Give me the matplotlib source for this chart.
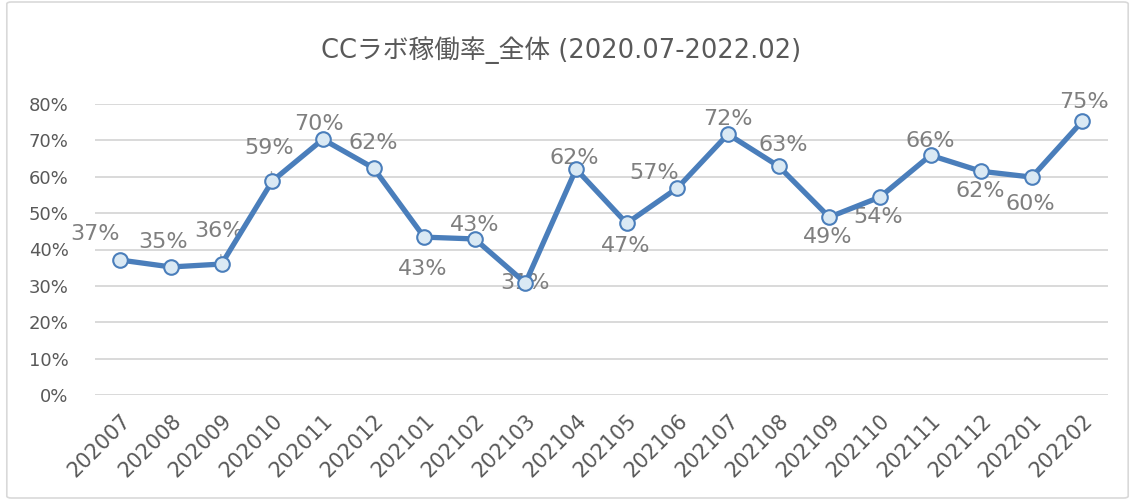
"""
CC lab utilisation rate line chart (2020.07 - 2022.02), Excel-style.
"""

import matplotlib
matplotlib.use("Agg")
import matplotlib.pyplot as plt
from matplotlib.patches import FancyBboxPatch
from matplotlib.ticker import PercentFormatter

# --- data -------------------------------------------------------------------
months = [
    "202007", "202008", "202009", "202010", "202011", "202012",
    "202101", "202102", "202103", "202104", "202105", "202106",
    "202107", "202108", "202109", "202110", "202111", "202112",
    "202201", "202202",
]
rates = [
    0.371, 0.352, 0.360, 0.588, 0.703, 0.624,
    0.434, 0.429, 0.308, 0.621, 0.472, 0.569,
    0.717, 0.629, 0.489, 0.544, 0.659, 0.615,
    0.599, 0.753,
]
y_ticks = [0, 0.1, 0.2, 0.3, 0.4, 0.5, 0.6, 0.7, 0.8]
title = "CCラボ稼働率_全体 (2020.07-2022.02)"

# label offsets in points (dx, dy) relative to each point, like Excel's manual placement
label_offsets = [
    (-18, 19), (-6, 18), (-2, 24), (-2, 24), (-3, 11), (0, 18),
    (-1, -23), (0, 10), (0, 0), (-1, 8), (-1, -16), (-17, 11),
    (0, 11), (3.5, 15.5), (-1, -14), (-1, -14), (0, 10.5), (-1, -14),
    (-1, -19), (1, 14),
]
leader_lines = {2, 3}  # labels drawn with a short leader line

# --- style ------------------------------------------------------------------
LINE = "#4a7ebb"
FILL = "#dae9f4"
GRID = "#d9d9d9"
TEXT = "#595959"
LABEL = "#7f7f7f"

plt.rcParams["font.family"] = ["DejaVu Sans", "Noto Sans CJK JP"]

fig = plt.figure(figsize=(11.35, 5.0), dpi=100)
ax = fig.add_axes([0.0837, 0.21, 0.8923, 0.582])

# outer chart border
fig.patches.append(FancyBboxPatch(
    (0.006, 0.004), 0.988, 0.992, boxstyle="round,pad=0,rounding_size=0.004",
    transform=fig.transFigure, fill=False, edgecolor="#d9d9d9", linewidth=1.2,
))

x = list(range(len(months)))
ax.plot(x, rates, color=LINE, linewidth=3.8, marker="o", markersize=10.5,
        markerfacecolor=FILL, markeredgecolor=LINE, markeredgewidth=1.5,
        zorder=3, solid_joinstyle="round")

for i, (xi, v) in enumerate(zip(x, rates)):
    dx, dy = label_offsets[i]
    kw = {}
    if i in leader_lines:
        kw["arrowprops"] = dict(arrowstyle="-", color="#a6a6a6", lw=1.0,
                                shrinkA=8, shrinkB=2)
    ax.annotate(f"{v * 100:.0f}%", (xi, v), xytext=(dx, dy),
                textcoords="offset points", ha="center", va="center",
                fontsize=16, color=LABEL, zorder=2, **kw)

ax.set_xlim(-0.5, len(months) - 0.5)
ax.set_ylim(0, 0.8)
ax.set_yticks(y_ticks)
ax.yaxis.set_major_formatter(PercentFormatter(1.0, decimals=0))
ax.set_xticks(x)
ax.set_xticklabels(months, rotation=45, ha="right", va="top",
                   rotation_mode="anchor", fontsize=15)

ax.grid(axis="y", color=GRID, linewidth=1.4)
ax.set_axisbelow(True)
for s in ax.spines.values():
    s.set_visible(False)
ax.tick_params(axis="both", length=0, colors=TEXT)
ax.tick_params(axis="y", pad=19, labelsize=13)
ax.tick_params(axis="x", pad=11)

fig.text(0.494, 0.9, title, ha="center", va="center", fontsize=18.5,
         color=TEXT)

fig.savefig("out.png", dpi=100)
plt.close(fig)
